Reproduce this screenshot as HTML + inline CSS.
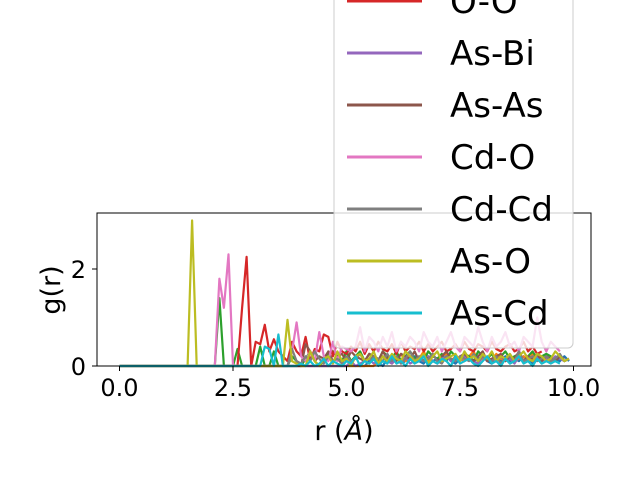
<!DOCTYPE html>
<html><head><meta charset="utf-8"><style>
html,body{margin:0;padding:0;background:#fff}
svg{display:block;font-family:"DejaVu Sans","Liberation Sans",sans-serif}
</style></head><body>
<svg id="chart" width="640" height="480" viewBox="0 0 640 480" xmlns="http://www.w3.org/2000/svg">
<rect width="640" height="480" fill="#fff"/>
<g id="series"></g>
<rect x="97" y="213" width="494" height="153" fill="none" stroke="#000" stroke-width="1"/>
<g id="ticks"></g>
<text x="344" y="440" font-size="27" text-anchor="middle">r (<tspan font-style="italic">Å</tspan>)</text>
<text transform="translate(60,290) rotate(-90)" font-size="27" text-anchor="middle">g(r)</text>
<g id="legend"></g>
</svg>
<script>
const labels=["Bi-Bi","Cd-Bi","O-Bi","O-O","As-Bi","As-As","Cd-O","Cd-Cd","As-O","As-Cd"];
const colors=["#1f77b4","#ff7f0e","#2ca02c","#d62728","#9467bd","#8c564b","#e377c2","#7f7f7f","#bcbd22","#17becf"];
const xTicks=[0,2.5,5,7.5,10];
const xTickLabels=["0.0","2.5","5.0","7.5","10.0"];
const yTicks=[0,2];
const yTickLabels=["0","2"];
const Z20=[0,0,0,0,0,0,0,0,0,0,0,0,0,0,0,0,0,0,0,0];
const s0=[...Z20,0,0,0,0,0,0,0,0,0,0,0,0,0,0,0,0,0,0,0,0,0,0,0,0,0,0,0,0,0,0,0,0,0,0,0,0.1,0.2,0.05,0,0.15,0.1,0.2,0.05,0.1,0.15,0.2,0.1,0.05,0.2,0.1,0.15,0.1,0.2,0.1,0.05,0.15,0.1,0.2,0.1,0.15,0.2,0.1,0.05,0.15,0.1,0.2,0.1,0.15,0.1,0.2,0.1,0.05,0.15,0.1,0.2,0.1,0.15,0.1,0.2,0.1];
const s1=[...Z20,0,0,0,0,0,0,0,0,0,0,0,0,0,0,0,0,0,0,0,0,0,0,0,0,0,0,0,0,0,0,0,0,0,0,0,0,0,0.1,0.2,0.1,0.05,0.15,0.25,0.1,0.2,0.1,0.15,0.3,0.1,0.2,0.15,0.1,0.25,0.1,0.2,0.15,0.1,0.2,0.3,0.1,0.15,0.2,0.1,0.25,0.15,0.1,0.2,0.1,0.15,0.2,0.1,0.25,0.15,0.1,0.2,0.1,0.15,0.2,0.1,0.15];
const s2=[...Z20,0,0,1.4,0,0,0,0.35,0,0,0,0,0.4,0,0,0.3,0,0,0,0.2,0.1,0,0.15,0.3,0.1,0,0.1,0.25,0.3,0.2,0.1,0.3,0.1,0.2,0.3,0.1,0.25,0.2,0.1,0.3,0.2,0.15,0.3,0.1,0.2,0.3,0.15,0.2,0.1,0.3,0.2,0.15,0.25,0.1,0.3,0.2,0.15,0.25,0.2,0.1,0.3,0.2,0.15,0.25,0.1,0.2,0.3,0.15,0.2,0.25,0.1,0.2,0.3,0.15,0.2,0.25,0.2,0.1,0.2];
const s3=[...Z20,0,0,0,0,0,0,0,1.2,2.25,0,0.5,0.45,0.85,0.3,0.55,0.3,0.2,0.1,0.5,0.3,0.2,0.6,0.1,0.35,0.3,0.65,0.6,0.2,0.5,0.3,0.25,0.4,0.3,0.5,0.25,0.45,0.3,0.5,0.35,0.3,0.45,0.25,0.5,0.3,0.4,0.35,0.5,0.3,0.45,0.3,0.4,0.5,0.3,0.35,0.45,0.3,0.5,0.35,0.3,0.45,0.4,0.3,0.5,0.35,0.3,0.4,0.45,0.3,0.35,0.5,0.3,0.4,0.25,0.3];
const s4=[...Z20,0,0,0,0,0,0,0,0,0,0,0,0,0,0,0,0,0,0,0,0,0,0,0,0,0,0,0,0,0,0,0,0.1,0,0.05,0.1,0.15,0.05,0.1,0.2,0.1,0.05,0.15,0.1,0.2,0.05,0.1,0.15,0.1,0.2,0.1,0.05,0.15,0.2,0.1,0.15,0.1,0.2,0.15,0.1,0.05,0.2,0.1,0.15,0.1,0.2,0.1,0.15,0.05,0.2,0.1,0.15,0.1,0.2,0.1,0.15,0.1,0.2,0.15,0.1,0.15];
const s5=[...Z20,0,0,0,0,0,0,0,0,0,0,0,0,0,0,0,0,0,0,0,0,0,0.45,0.3,0.1,0.2,0.15,0.3,0.1,0.2,0.25,0.1,0.3,0.2,0.15,0.1,0.25,0.2,0.1,0.3,0.15,0.2,0.1,0.25,0.2,0.15,0.3,0.1,0.2,0.15,0.25,0.1,0.2,0.3,0.15,0.1,0.2,0.25,0.15,0.1,0.2,0.3,0.1,0.15,0.2,0.25,0.1,0.2,0.15,0.3,0.1,0.2,0.15,0.25,0.1,0.2,0.15,0.1,0.2,0.15];
const s6=[...Z20,0,0,1.8,1.2,2.3,0,0,0,0,0,0,0,0,0,0,0,0,0,0.3,0.9,0.2,0.1,0.3,0.1,0.7,0.2,0.1,0.5,0.1,0.4,0.35,0.3,0.4,0.8,0.3,0.6,0.5,0.3,0.6,0.4,0.7,0.3,0.5,0.4,0.6,0.5,0.3,0.7,0.5,0.4,0.6,0.3,0.5,0.7,0.4,0.3,0.6,0.5,0.4,0.8,0.5,0.3,0.6,0.4,0.5,0.7,0.4,0.5,0.3,0.6,0.5,0.4,1.0,0.5,0.3,0.5,0.4,0.3];
const s7=[...Z20,0,0,0,0,0,0,0,0,0,0,0,0,0,0,0,0,0,0,0.35,0.1,0.05,0.2,0.1,0.3,0.15,0.05,0.2,0.1,0.15,0.05,0.2,0.1,0.15,0.25,0.1,0.05,0.2,0.15,0.1,0.25,0.1,0.2,0.05,0.15,0.3,0.1,0.2,0.1,0.15,0.25,0.1,0.05,0.2,0.15,0.1,0.2,0.15,0.1,0.25,0.1,0.2,0.15,0.1,0.2,0.05,0.15,0.2,0.1,0.3,0.1,0.15,0.2,0.1,0.15,0.2,0.1,0.15,0.25,0.1,0.15];
const s8=[0,0,0,0,0,0,0,0,0,0,0,0,0,0,0,0,3.0,0,0,0,0,0,0,0,0,0,0,0,0,0,0,0,0,0,0,0,0,0.95,0.1,0.05,0,0,0.3,0.1,0,0.15,0.2,0.05,0.3,0.1,0.15,0,0.2,0.25,0.1,0.15,0.3,0.05,0.2,0.1,0.25,0.15,0.1,0.3,0.2,0.1,0.15,0.25,0.05,0.2,0.3,0.1,0.15,0.2,0.25,0.1,0.3,0.15,0.2,0.1,0.25,0.15,0.3,0.1,0.2,0.15,0.25,0.1,0.2,0.3,0.15,0.1,0.25,0.2,0.1,0.15,0.3,0.2,0.1,0.15];
const s9=[...Z20,0,0,0,0,0,0,0,0,0,0,0,0,0.4,0.35,0,0.65,0,0,0,0,0.05,0,0.1,0,0.05,0.15,0,0.1,0.05,0,0.1,0.05,0.2,0,0.1,0.05,0.15,0,0.1,0.05,0.2,0.05,0.1,0,0.15,0.05,0.1,0.2,0,0.1,0.05,0.15,0.1,0,0.2,0.05,0.1,0.15,0.05,0,0.1,0.2,0.05,0.1,0,0.15,0.05,0.1,0.2,0.05,0.1,0,0.15,0.05,0.1,0.05,0.1,0.05];
const seriesData=[s0,s1,s2,s3,s4,s5,s6,s7,s8,s9];
const NS="http://www.w3.org/2000/svg";
const X0=119.5,XS=45.4,Y0=366,YS=48.5;
const xs=v=>X0+v*XS, ys=v=>Y0-v*YS;
const sg=document.getElementById('series');
seriesData.forEach((d,k)=>{
  const p=document.createElementNS(NS,'polyline');
  
  
  p.setAttribute('points',d.map((v,i)=>xs(i*0.1).toFixed(1)+','+ys(v).toFixed(1)).join(' '));
  p.setAttribute('fill','none');p.setAttribute('stroke',colors[k]);p.setAttribute('stroke-width','2.2');p.setAttribute('stroke-linejoin','round');
  sg.appendChild(p);
});
const tg=document.getElementById('ticks');
xTicks.forEach((t,i)=>{
  const l=document.createElementNS(NS,'line');
  
  
  l.setAttribute('x1',xs(t));l.setAttribute('x2',xs(t));l.setAttribute('y1',366);l.setAttribute('y2',371);l.setAttribute('stroke','#000');
  tg.appendChild(l);
  const tx=document.createElementNS(NS,'text');
  
  
  tx.setAttribute('x',xs(t));tx.setAttribute('y',396);tx.setAttribute('font-size','24');tx.setAttribute('text-anchor','middle');
  tx.textContent=xTickLabels[i];tg.appendChild(tx);
});
yTicks.forEach((t,i)=>{
  const l=document.createElementNS(NS,'line');
  
  
  l.setAttribute('x1',92);l.setAttribute('x2',97);l.setAttribute('y1',ys(t));l.setAttribute('y2',ys(t));l.setAttribute('stroke','#000');
  tg.appendChild(l);
  const tx=document.createElementNS(NS,'text');
  
  
  tx.setAttribute('x',86);tx.setAttribute('y',ys(t)+9);tx.setAttribute('font-size','24');tx.setAttribute('text-anchor','end');
  tx.textContent=yTickLabels[i];tg.appendChild(tx);
});
const lg=document.getElementById('legend');
const box=document.createElementNS(NS,'rect');


box.setAttribute('x',334);box.setAttribute('y',-170);box.setAttribute('width',239);box.setAttribute('height',518);box.setAttribute('rx',5);
box.setAttribute('fill','rgba(255,255,255,0.8)');box.setAttribute('stroke','#ccc');
lg.appendChild(box);
labels.forEach((lab,k)=>{
  const y=1+(k-3)*52;
  const l=document.createElementNS(NS,'line');
  
  
  l.setAttribute('x1',347);l.setAttribute('x2',422);l.setAttribute('y1',y);l.setAttribute('y2',y);l.setAttribute('stroke',colors[k]);l.setAttribute('stroke-width','3');
  lg.appendChild(l);
  const tx=document.createElementNS(NS,'text');
  
  
  tx.setAttribute('x',450);tx.setAttribute('y',y+12);tx.setAttribute('font-size','34');
  tx.textContent=lab;lg.appendChild(tx);
});
</script>
</body></html>
